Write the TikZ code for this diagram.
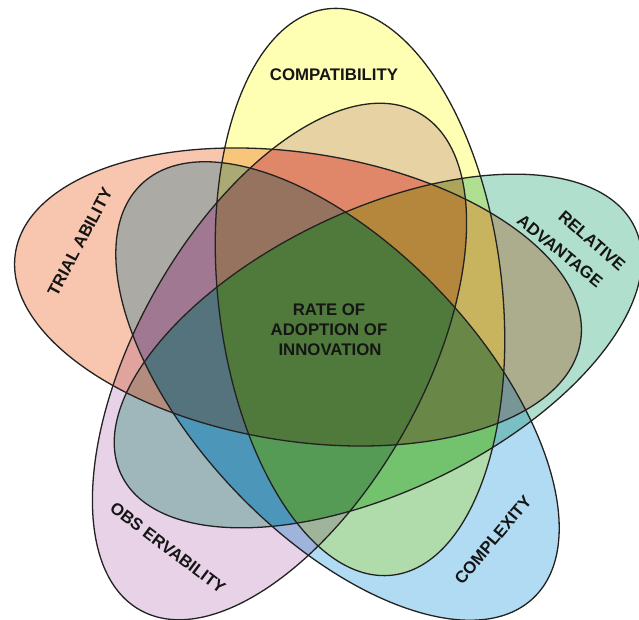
\documentclass[tikz,border=0pt]{standalone}
\usepackage{fontspec}
\setmainfont{Liberation Sans}
\definecolor{cY}{HTML}{FFFFB4}
\definecolor{cS}{HTML}{F8C6AE}
\definecolor{cT}{HTML}{B0DFCE}
\definecolor{cB}{HTML}{B0DBF2}
\definecolor{cP}{HTML}{E7D2E7}
% three-set regions
\definecolor{cYSP}{HTML}{E0876A}
\definecolor{cYPT}{HTML}{AAA55A}
\definecolor{cYST}{HTML}{C8B45F}
\definecolor{cYBT}{HTML}{73C36E}
\definecolor{cSTB}{HTML}{789696}
\definecolor{cSPT}{HTML}{B48C7D}
\definecolor{cSBP}{HTML}{A07891}
\definecolor{cPTB}{HTML}{4B96B9}
% four-set regions
\definecolor{cNoY}{HTML}{55737D}
\definecolor{cNoT}{HTML}{96735F}
\definecolor{cNoB}{HTML}{B4873C}
\definecolor{cNoP}{HTML}{698746}
\definecolor{cNoS}{HTML}{559B55}
\definecolor{cAll}{HTML}{4F7A3C}
\definecolor{lineC}{HTML}{222222}
\definecolor{textC}{HTML}{151515}
\tikzset{
  eY/.style={shift={(360,328)}, rotate=96.5},
  eT/.style={shift={(378,269)}, rotate=25.8},
  eB/.style={shift={(337.5,229)}, rotate=-46.6},
  eP/.style={shift={(279.5,258.5)}, rotate=60.7},
  eS/.style={shift={(298,323)}, rotate=-8.9},
  outline/.style={draw=lineC, line width=1.3pt},
  lab/.style={font=\bfseries\fontsize{16.8}{19}\selectfont, text=textC, inner sep=0pt},
}
\newcommand\clY{\clip[eY] (0,0) ellipse [x radius=285, y radius=142];}
\newcommand\clT{\clip[eT] (0,0) ellipse [x radius=285, y radius=140];}
\newcommand\clB{\clip[eB] (0,0) ellipse [x radius=285, y radius=143];}
\newcommand\clP{\clip[eP] (0,0) ellipse [x radius=285, y radius=143];}
\newcommand\clS{\clip[eS] (0,0) ellipse [x radius=286, y radius=144];}
\newcommand\vregion[2]{\begin{scope}#1\fill[#2] (0,0) rectangle (639,620);\end{scope}}
\begin{document}
\begin{tikzpicture}[x=1pt,y=1pt]
\useasboundingbox (0,0) rectangle (639,620);
\fill[white] (0,0) rectangle (639,620);
% single colours, mixed by multiplication
\begin{scope}[blend mode=multiply]
  \fill[cY, eY] (0,0) ellipse [x radius=285, y radius=142];
  \fill[cT, eT] (0,0) ellipse [x radius=285, y radius=140];
  \fill[cB, eB] (0,0) ellipse [x radius=285, y radius=143];
  \fill[cP, eP] (0,0) ellipse [x radius=285, y radius=143];
  \fill[cS, eS] (0,0) ellipse [x radius=286, y radius=144];
\end{scope}
% three-set regions
\vregion{\clY\clS\clP}{cYSP}
\vregion{\clY\clP\clT}{cYPT}
\vregion{\clY\clS\clT}{cYST}
\vregion{\clY\clB\clT}{cYBT}
\vregion{\clS\clT\clB}{cSTB}
\vregion{\clS\clP\clT}{cSPT}
\vregion{\clS\clB\clP}{cSBP}
\vregion{\clP\clT\clB}{cPTB}
% four-set regions
\vregion{\clS\clB\clP\clT}{cNoY}
\vregion{\clY\clS\clB\clP}{cNoT}
\vregion{\clY\clS\clP\clT}{cNoB}
\vregion{\clY\clS\clB\clT}{cNoP}
\vregion{\clY\clB\clP\clT}{cNoS}
% five-set centre
\vregion{\clY\clS\clB\clP\clT}{cAll}
% outlines
\draw[outline, eY] (0,0) ellipse [x radius=285, y radius=142];
\draw[outline, eT] (0,0) ellipse [x radius=285, y radius=140];
\draw[outline, eB] (0,0) ellipse [x radius=285, y radius=143];
\draw[outline, eP] (0,0) ellipse [x radius=285, y radius=143];
\draw[outline, eS] (0,0) ellipse [x radius=286, y radius=144];

\node[lab] (compat) at (334,545) {COMPATIBILITY};
\node[lab, rotate=62] (trial) at (80,378) {TRIAL ABILITY};
\node[lab, rotate=-41] (rel) at (592,379) {RELATIVE};
\node[lab, rotate=-39] (adv) at (560,369) {ADVANTAGE};
\node[lab, rotate=50] (complex) at (493,80) {COMPLEXITY};
\node[lab, rotate=-37] (obs) at (168,72) {OBS ERVABILITY};
\node[lab] (rate1) at (329,310) {RATE OF};
\node[lab] (rate2) at (329,290) {ADOPTION OF};
\node[lab] (rate3) at (330,270) {INNOVATION};
\end{tikzpicture}
\end{document}
